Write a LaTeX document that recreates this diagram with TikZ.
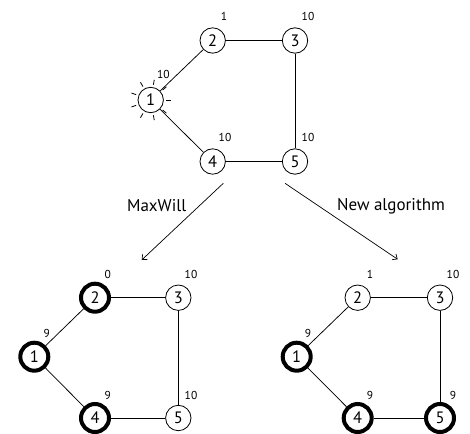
\documentclass[tikz,border=0pt]{standalone}
\usepackage{fontspec}
\setmainfont{PT Sans}
\usetikzlibrary{arrows.meta}
\tikzset{
  vtx/.style={circle,draw,line width=0.8pt,minimum size=25.4pt,inner sep=0pt,font=\fontsize{16.5}{18}\selectfont},
  sel/.style={vtx,line width=4pt,minimum size=28pt},
  lbl/.style={inner sep=0pt,font=\fontsize{11.5}{13}\selectfont},
  edge/.style={line width=0.75pt},
  algname/.style={inner sep=0pt,anchor=base,font=\fontsize{17}{19}\selectfont},
  flow/.style={line width=0.7pt,-{Straight Barb[length=4pt,width=7pt]}},
}
\begin{document}
\begin{tikzpicture}[x=1pt,y=-1pt]
\useasboundingbox (0,0) rectangle (470,433);
% top graph
\node[vtx] (t1) at (150.7,100) {1};
\node[vtx] (t2) at (212.7,40.5) {2};
\node[vtx] (t3) at (295,40.5) {3};
\node[vtx] (t4) at (212.7,161.5) {4};
\node[vtx] (t5) at (295,161.5) {5};
\draw[edge] (t1) -- (t2);
\draw[edge] (t2) -- (t3);
\draw[edge] (t3) -- (t5);
\draw[edge] (t4) -- (t5);
\draw[edge] (t1) -- (t4);
\foreach \a in {0,40,...,320} \draw[line width=0.8pt] (t1.center) ++(\a:15.5) -- ++(\a:5);
\node[lbl] (t1w) at (163.3,74) {10};
\node[lbl] (t2w) at (224,16) {1};
\node[lbl] (t3w) at (308,16) {10};
\node[lbl] (t4w) at (225,137) {10};
\node[lbl] (t5w) at (308,137) {10};
% arrows
\coordinate (a1s) at (223.3,183.3);
\coordinate (a1e) at (141.7,260);
\coordinate (a2s) at (285,183.3);
\coordinate (a2e) at (397.7,259.3);
\draw[flow] (a1s) -- (a1e);
\draw[flow] (a2s) -- (a2e);
\node[algname] (mw) at (156.7,211.3) {MaxWill};
\node[algname] (na) at (391,210.7) {New algorithm};
% bottom left graph
\node[sel] (l1) at (34.3,356.7) {1};
\node[sel] (l2) at (95,297.7) {2};
\node[vtx] (l3) at (178.3,297.7) {3};
\node[sel] (l4) at (95,418) {4};
\node[vtx] (l5) at (178.3,418) {5};
\draw[edge] (l1) -- (l2);
\draw[edge] (l2) -- (l3);
\draw[edge] (l3) -- (l5);
\draw[edge] (l4) -- (l5);
\draw[edge] (l1) -- (l4);
\node[lbl] (l1w) at (46.7,333) {9};
\node[lbl] (l2w) at (107.7,274) {0};
\node[lbl] (l3w) at (191,274) {10};
\node[lbl] (l4w) at (107.7,395.7) {9};
\node[lbl] (l5w) at (191,395.7) {10};
% bottom right graph
\node[sel] (r1) at (296.7,356.7) {1};
\node[vtx] (r2) at (357.7,297.7) {2};
\node[vtx] (r3) at (440,297.7) {3};
\node[sel] (r4) at (357.7,418) {4};
\node[sel] (r5) at (440,418) {5};
\draw[edge] (r1) -- (r2);
\draw[edge] (r2) -- (r3);
\draw[edge] (r3) -- (r5);
\draw[edge] (r4) -- (r5);
\draw[edge] (r1) -- (r4);
\node[lbl] (r1w) at (308,333) {9};
\node[lbl] (r2w) at (370,274) {1};
\node[lbl] (r3w) at (453,274) {10};
\node[lbl] (r4w) at (370,395.7) {9};
\node[lbl] (r5w) at (453,395.7) {9};
\end{tikzpicture}
\end{document}
